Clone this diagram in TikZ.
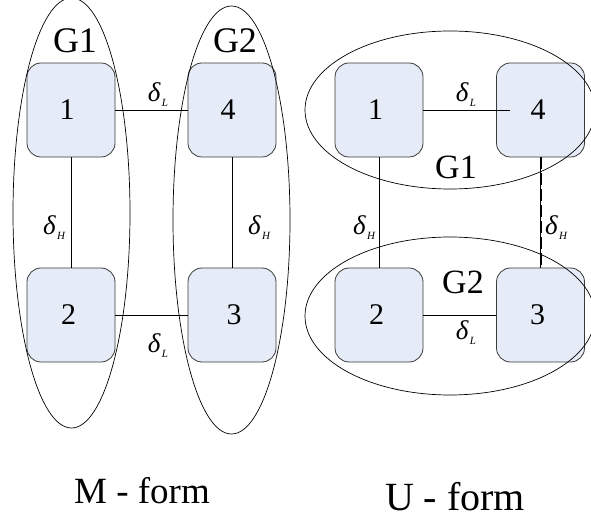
\documentclass[tikz,border=0pt]{standalone}
\usepackage{fontspec}
\setmainfont{Liberation Serif}
\usetikzlibrary{positioning}
\definecolor{boxfill}{HTML}{E6ECF7}
\definecolor{boxline}{HTML}{3A3A3A}
\newcommand{\dsub}[1]{{\fontsize{27}{27}\selectfont\itshape δ\kern1.5pt\raisebox{-5pt}{\fontsize{11}{11}\selectfont #1}}}
\tikzset{
  unit/.style={draw=boxline, fill=boxfill, line width=0.8pt, rounded corners=14pt,
    minimum width=88pt, minimum height=94pt, inner sep=0pt,
    font=\fontsize{30}{30}\selectfont},
  group/.style={draw=black, line width=0.7pt},
  link/.style={draw=black, line width=0.7pt},
  glabel/.style={font=\fontsize{36}{36}\selectfont, inner sep=0pt},
  dlabel/.style={inner sep=0pt},
  formlabel/.style={inner sep=0pt, anchor=base}
}
\begin{document}
\begin{tikzpicture}[x=1pt,y=-1pt]
\useasboundingbox[fill=white] (0,0) rectangle (591,518);

% ---- M-form ----
\node[unit] (m1) at (71,110) {\kern-8pt 1};
\node[unit] (m4) at (232,110) {\kern-8pt 4};
\node[unit] (m2) at (71,315) {\kern-5pt 2};
\node[unit] (m3) at (232,315) {\kern4pt 3};
\draw[link] (m1.east) -- (m1.east -| m4.west);
\draw[link] (m2.east) -- (m2.east -| m3.west);
\draw[link] (m1.south) -- (m2.north);
\draw[link] (m4.south) -- (m3.north);
\draw[group] (71.5,213) ellipse [x radius=58.5, y radius=215];
\draw[group] (231.5,220) ellipse [x radius=58.5, y radius=214];
\node[glabel] (mg1) at (75,41) {G1};
\node[glabel] (mg2) at (235,41) {G2};
\node[dlabel] (mdl1) at (158,95) {\dsub{L}};
\node[dlabel] (mdl2) at (158,346) {\dsub{L}};
\node[dlabel] (mdh1) at (54,228) {\dsub{H}};
\node[dlabel] (mdh2) at (259,228) {\dsub{H}};
\node[formlabel, font=\fontsize{37}{37}\selectfont] (mform) at (142,503) {M - form};

% ---- U-form ----
\node[unit] (u1) at (379,110) {\kern-7pt 1};
\node[unit] (u4) at (540.5,110) {\kern-5pt 4};
\node[unit] (u2) at (379,315) {\kern-5pt 2};
\node[unit] (u3) at (540.5,315) {\kern-6pt 3};
\coordinate (u4in) at ([xshift=14pt]u4.west);
\draw[link] (u1.east) -- (u4in);
\draw[link] (u2.east) -- (u2.east -| u3.west);
\draw[link] (u1.south) -- (u2.north);
\draw[link] (u4.south) -- (u3.north);
\draw[line width=2pt, dash pattern=on 12pt off 4pt] (u4.south) -- (u3.north);
\draw[group] (450,110) ellipse [x radius=145, y radius=79];
\draw[group] (450,316) ellipse [x radius=145, y radius=79];
\node[glabel, font=\fontsize{34}{34}\selectfont] (ug1) at (456,167) {G1};
\node[glabel, font=\fontsize{34}{34}\selectfont] (ug2) at (463,282) {G2};
\node[dlabel] (udl1) at (466,95) {\dsub{L}};
\node[dlabel] (udl2) at (466,333) {\dsub{L}};
\node[dlabel] (udh1) at (364,228) {\dsub{H}};
\node[dlabel] (udh2) at (556,228) {\dsub{H}};
\node[formlabel, font=\fontsize{40}{40}\selectfont] (uform) at (455,510) {U - form};
\end{tikzpicture}
\end{document}
